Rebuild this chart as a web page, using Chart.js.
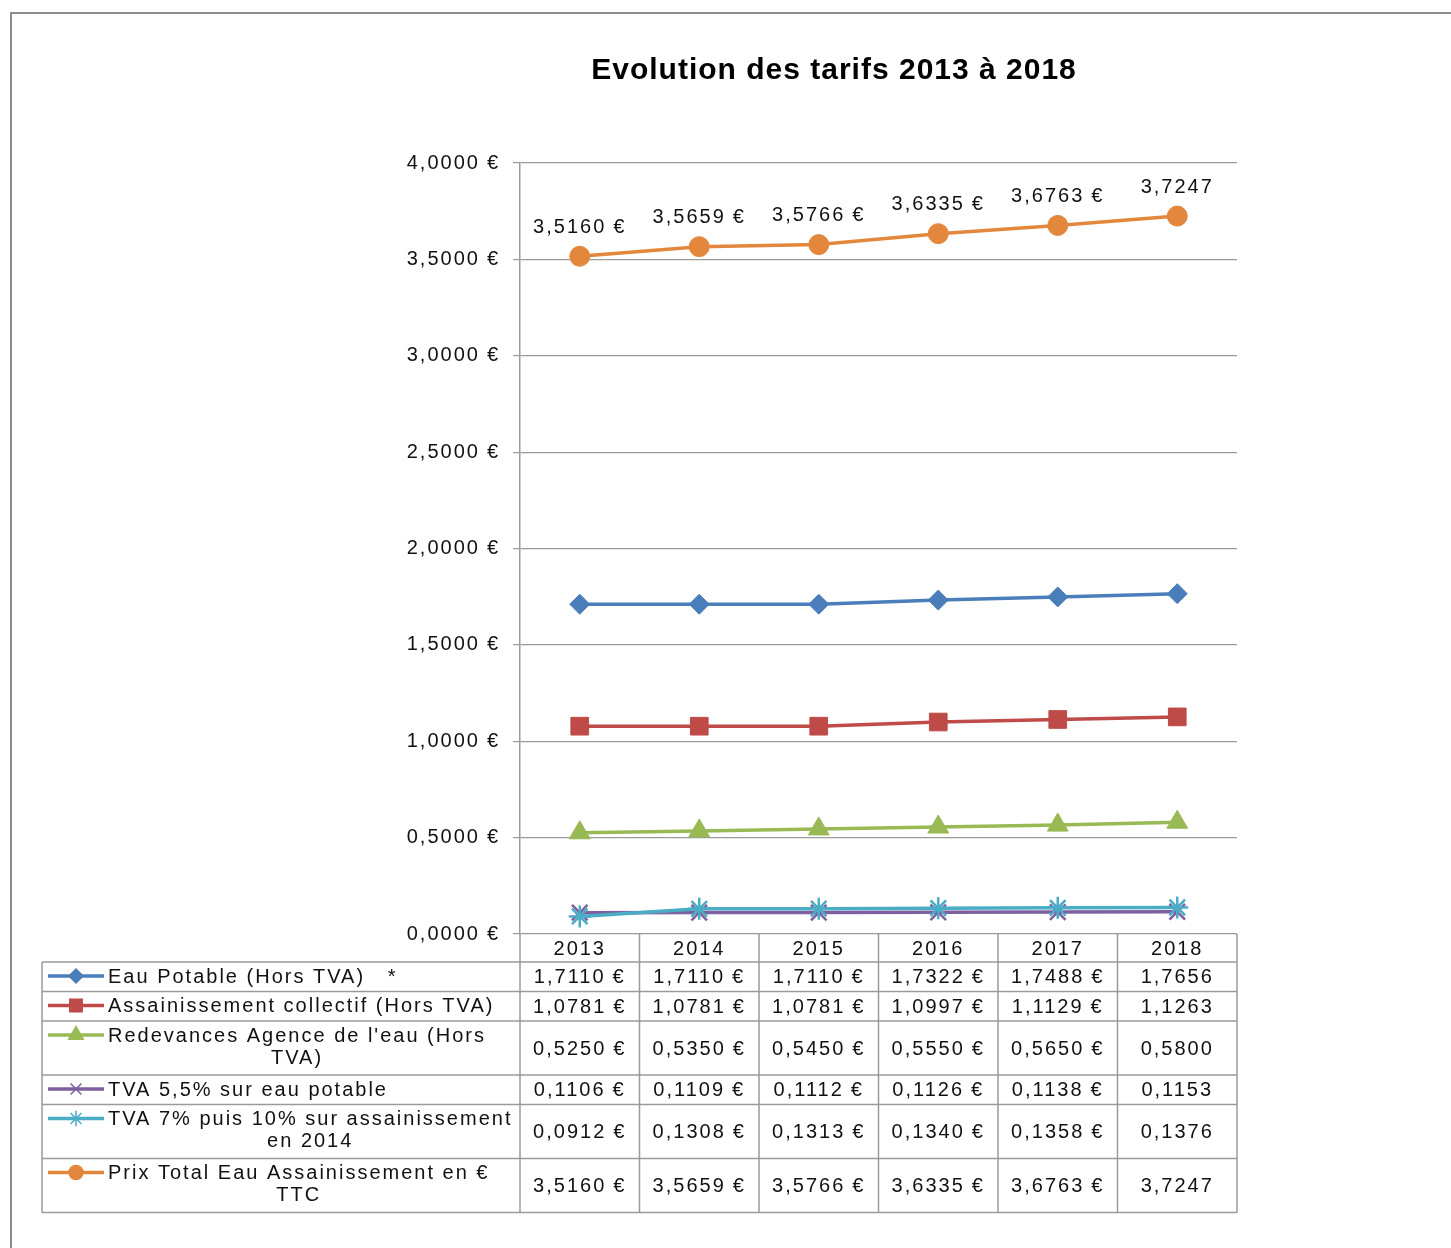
<!DOCTYPE html>
<html>
<head>
<meta charset="utf-8">
<script src="https://cdn.jsdelivr.net/npm/chart.js@4.4.1/dist/chart.umd.min.js"></script>
<style>
  html, body { margin: 0; padding: 0; background: #fff; }
</style>
</head>
<body>
<canvas id="tarifs" width="1451" height="1248"></canvas>
<script>
// data
var years = ['2013', '2014', '2015', '2016', '2017', '2018'];
var eauPotable = [1.7110, 1.7110, 1.7110, 1.7322, 1.7488, 1.7656];
var assainissement = [1.0781, 1.0781, 1.0781, 1.0997, 1.1129, 1.1263];
var redevances = [0.5250, 0.5350, 0.5450, 0.5550, 0.5650, 0.5800];
var tvaEau = [0.1106, 0.1109, 0.1112, 0.1126, 0.1138, 0.1153];
var tvaAssain = [0.0912, 0.1308, 0.1313, 0.1340, 0.1358, 0.1376];
var prixTotal = [3.5160, 3.5659, 3.5766, 3.6335, 3.6763, 3.7247];
var yTicks = [0, 0.5, 1, 1.5, 2, 2.5, 3, 3.5, 4];
var seriesNames = [
    ['Eau Potable (Hors TVA)   *'],
    ['Assainissement collectif (Hors TVA)'],
    ["Redevances Agence de l'eau (Hors", 'TVA)'],
    ['TVA 5,5% sur eau potable'],
    ['TVA 7% puis 10% sur assainissement', 'en 2014'],
    ['Prix Total Eau Assainissement en €', 'TTC']
];

var FONT = '20px "Liberation Sans", Arial, sans-serif';
var GRID = '#9a9a9a';
var INK = '#111';

// the last year column has no euro sign in the source
function fmt(v, i) {
    return v.toFixed(4).replace('.', ',') + (i === 5 ? '' : '\u2005€');
}

var tablePlugin = {
    id: 'tableau',
    beforeDraw: function(chart) {
        var ctx = chart.ctx;
        ctx.save();
        ctx.fillStyle = '#fff';
        ctx.fillRect(0, 0, chart.width, chart.height);
        ctx.strokeStyle = '#8c8c8c';
        ctx.lineWidth = 2;
        ctx.strokeRect(11, 13, chart.width + 20, chart.height + 20);
        ctx.restore();
        ctx.letterSpacing = '2px';
    },
    afterDatasetsDraw: function(chart) {
        // value labels above the total line
        var ctx = chart.ctx;
        var meta = chart.getDatasetMeta(5);
        ctx.save();
        ctx.font = FONT;
        ctx.fillStyle = INK;
        ctx.textAlign = 'center';
        ctx.textBaseline = 'middle';
        meta.data.forEach(function(pt, i) {
            ctx.fillText(fmt(prixTotal[i], i), pt.x, pt.y - 29);
        });
        ctx.restore();
    },
    afterDraw: function(chart) {
        var ctx = chart.ctx;
        var xs = chart.scales.x;
        var area = chart.chartArea;
        var half = (xs.getPixelForValue(1) - xs.getPixelForValue(0)) / 2;
        var ds = chart.data.datasets;

        // row edges
        var edges = [area.bottom, area.bottom + 28];
        seriesNames.forEach(function(n) {
            edges.push(edges[edges.length - 1] + (n.length > 1 ? 54 : 29.5));
        });
        var bottom = edges[edges.length - 1];

        ctx.save();
        ctx.strokeStyle = GRID;
        ctx.lineWidth = 1.5;
        ctx.beginPath();
        for (var r = 1; r < edges.length; r++) {
            ctx.moveTo(42, edges[r]);
            ctx.lineTo(area.right, edges[r]);
        }
        ctx.moveTo(42, edges[1]);
        ctx.lineTo(42, bottom);
        for (var c = 0; c <= years.length; c++) {
            var x = xs.getPixelForValue(0) - half + c * 2 * half;
            ctx.moveTo(x, area.bottom);
            ctx.lineTo(x, bottom);
        }
        ctx.stroke();

        ctx.font = FONT;
        ctx.fillStyle = INK;
        ctx.textBaseline = 'middle';
        ctx.textAlign = 'center';
        years.forEach(function(y, i) {
            ctx.fillText(y, xs.getPixelForValue(i), (edges[0] + edges[1]) / 2 + 1);
        });

        ds.forEach(function(d, k) {
            var top = edges[k + 1], bot = edges[k + 2];
            var mid = (top + bot) / 2;
            ctx.textAlign = 'center';
            ctx.fillStyle = INK;
            d.data.forEach(function(v, i) {
                ctx.fillText(fmt(v, i), xs.getPixelForValue(i), mid + 1);
            });
            // legend key
            var ly = top + 14;
            ctx.strokeStyle = d.borderColor;
            ctx.fillStyle = d.backgroundColor;
            ctx.lineWidth = 3.5;
            ctx.beginPath();
            ctx.moveTo(48, ly);
            ctx.lineTo(104, ly);
            ctx.stroke();
            ctx.lineWidth = 1.5;
            Chart.helpers.drawPoint(ctx, {
                pointStyle: d.pointStyle, rotation: 0,
                radius: d.pointRadius * 0.7, borderWidth: 1.5
            }, 76, ly);
            // label, lines centred on the first one
            var lines = seriesNames[k];
            var w = ctx.measureText(lines[0]).width;
            ctx.fillStyle = INK;
            lines.forEach(function(t, j) {
                ctx.fillText(t, 108 + w / 2, ly + 1 + j * 22);
            });
        });

        // title
        ctx.letterSpacing = '1px';
        ctx.font = 'bold 30px "Liberation Sans", Arial, sans-serif';
        ctx.textAlign = 'center';
        ctx.fillStyle = '#000';
        ctx.fillText('Evolution des tarifs 2013 à 2018', 834, 71);
        ctx.restore();
    }
};

function serie(label, data, color, style, radius, order) {
    return {
        label: label, data: data,
        borderColor: color, backgroundColor: color,
        borderWidth: 3.5, tension: 0,
        pointStyle: style, pointRadius: radius,
        pointBorderWidth: style === 'star' || style === 'crossRot' ? 2.5 : 1,
        pointBackgroundColor: color, pointBorderColor: color,
        order: order
    };
}

new Chart(document.getElementById('tarifs'), {
    type: 'line',
    data: {
        labels: years,
        datasets: [
            serie(seriesNames[0].join(' '), eauPotable, '#4A7EBB', 'rectRot', 10, 5),
            serie(seriesNames[1].join(' '), assainissement, '#BE4B48', 'rect', 12.5, 4),
            serie(seriesNames[2].join(' '), redevances, '#98B954', 'triangle', 12, 3),
            serie(seriesNames[3].join(' '), tvaEau, '#7D60A0', 'crossRot', 11, 2),
            serie(seriesNames[4].join(' '), tvaAssain, '#4BACC6', 'star', 11, 1),
            serie(seriesNames[5].join(' '), prixTotal, '#E2873B', 'circle', 10, 0)
        ]
    },
    options: {
        responsive: false,
        devicePixelRatio: 1,
        animation: false,
        layout: { padding: { left: 300, top: 163, right: 214, bottom: 314 } },
        plugins: {
            legend: { display: false },
            tooltip: { enabled: false },
            title: { display: false }
        },
        scales: {
            x: { display: false, offset: true },
            y: {
                min: 0, max: 4,
                afterBuildTicks: function(s) {
                    s.ticks = yTicks.map(function(v) { return { value: v }; });
                },
                afterFit: function(s) { s.width = 220; },
                ticks: {
                    font: { family: '"Liberation Sans", Arial, sans-serif', size: 20 },
                    color: INK,
                    padding: 13,
                    callback: function(v) { return fmt(v, 0); }
                },
                grid: { color: GRID, lineWidth: 1.2, tickLength: 7 },
                border: { color: GRID, width: 1.5 }
            }
        }
    },
    plugins: [tablePlugin]
});
</script>
</body>
</html>
